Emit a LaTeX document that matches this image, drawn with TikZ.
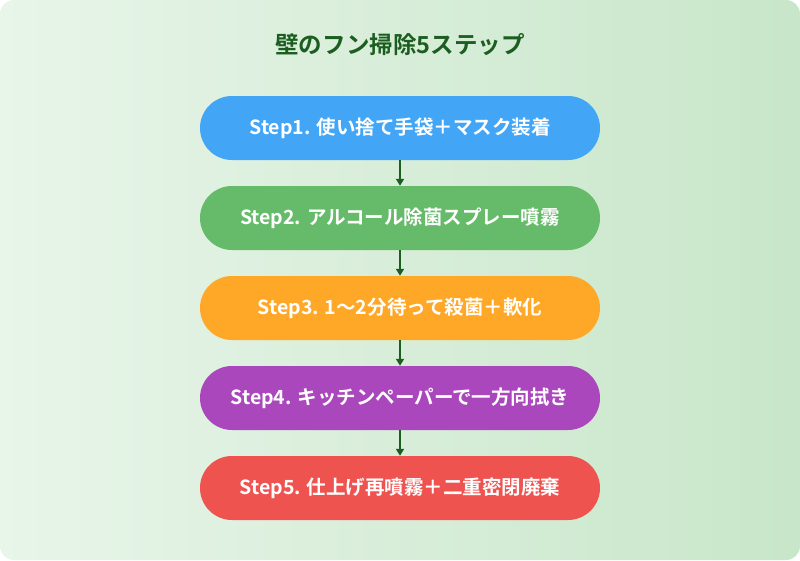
\documentclass[tikz,border=0pt]{standalone}
\usepackage{fontspec}
\setmainfont{Noto Sans CJK JP}[BoldFont={* Bold}]
\usetikzlibrary{arrows.meta}
\definecolor{bgA}{HTML}{E8F5E9}
\definecolor{bgB}{HTML}{C8E6C9}
\definecolor{tgreen}{HTML}{1B5E20}
\definecolor{c1}{HTML}{42A5F5}
\definecolor{c2}{HTML}{66BB6A}
\definecolor{c3}{HTML}{FFA726}
\definecolor{c4}{HTML}{AB47BC}
\definecolor{c5}{HTML}{EF5350}
\tikzset{
 stepbox/.style={rounded corners=32pt, minimum width=400pt, minimum height=64pt, inner sep=0pt, text=white, font=\bfseries\fontsize{19.5pt}{23pt}\selectfont},
 arr/.style={draw=tgreen, line width=2pt, -{Triangle[length=7pt,width=8pt]}}
}
\begin{document}
\begin{tikzpicture}[x=1pt,y=-1pt]
\useasboundingbox (0,0) rectangle (800,560);
\shade[left color=bgA, right color=bgB, rounded corners=14pt] (0,0) rectangle (800,560);
\node[text=tgreen, font=\bfseries\fontsize{23.5pt}{28pt}\selectfont] (title) at (400,45) {壁のフン掃除5ステップ};
\node[stepbox, fill=c1] (s1) at (400,128) {Step1. 使い捨て手袋＋マスク装着};
\node[stepbox, fill=c2] (s2) at (400,218) {Step2. アルコール除菌スプレー噴霧};
\node[stepbox, fill=c3] (s3) at (400,308) {Step3. 1〜2分待って殺菌＋軟化};
\node[stepbox, fill=c4] (s4) at (400,398) {Step4. キッチンペーパーで一方向拭き};
\node[stepbox, fill=c5] (s5) at (400,488) {Step5. 仕上げ再噴霧＋二重密閉廃棄};
\draw[arr] (s1) -- (s2);
\draw[arr] (s2) -- (s3);
\draw[arr] (s3) -- (s4);
\draw[arr] (s4) -- (s5);
\end{tikzpicture}
\end{document}
